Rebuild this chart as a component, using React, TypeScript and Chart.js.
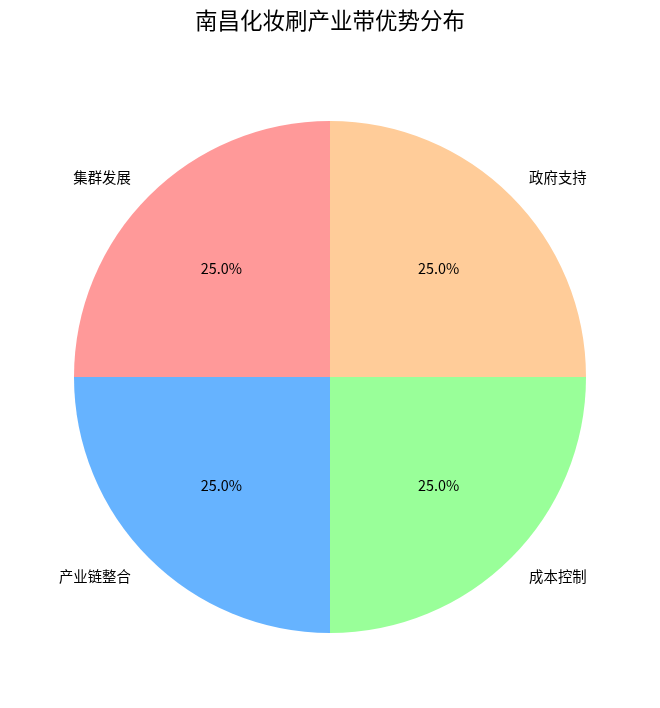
import React, { useEffect, useRef } from 'react';
import { Chart, ChartConfiguration, Plugin } from 'chart.js/auto';

// clockwise from 12 o'clock
const categories = ['政府支持', '成本控制', '产业链整合', '集群发展'];
const shares = [25, 25, 25, 25];
const colors = ['#ffcc99', '#99ff99', '#66b3ff', '#ff9999'];
const title = '南昌化妆刷产业带优势分布';

const FONT = '"Noto Sans CJK SC", "Noto Sans", sans-serif';

const pieLabels: Plugin<'pie'> = {
  id: 'pieLabels',
  afterDraw(chart) {
    const ctx = chart.ctx;
    const meta = chart.getDatasetMeta(0);
    const total = shares.reduce((a, b) => a + b, 0);
    ctx.save();
    ctx.fillStyle = '#000';
    ctx.textBaseline = 'middle';

    ctx.font = `22.5px ${FONT}`;
    ctx.textAlign = 'center';
    ctx.fillText(title, 330, 20);

    meta.data.forEach((el: any, i: number) => {
      const { x, y, startAngle, endAngle, outerRadius } = el.getProps(
        ['x', 'y', 'startAngle', 'endAngle', 'outerRadius'],
        true
      );
      const mid = (startAngle + endAngle) / 2;
      const c = Math.cos(mid);
      const s = Math.sin(mid);
      ctx.font = `14.4px ${FONT}`;
      // category label outside
      const lx = x + c * outerRadius * 1.1;
      const ly = y + s * outerRadius * 1.1;
      ctx.textAlign = Math.abs(c) < 1e-6 ? 'center' : c < 0 ? 'right' : 'left';
      ctx.fillText(categories[i], lx, ly);
      // percentage inside
      const px = x + c * outerRadius * 0.6;
      const py = y + s * outerRadius * 0.6;
      ctx.textAlign = 'center';
      ctx.fillText(((shares[i] / total) * 100).toFixed(1) + '%', px, py);
    });
    ctx.restore();
  },
};

const App: React.FC = () => {
  const chartRef = useRef<HTMLCanvasElement | null>(null);
  const chartInstance = useRef<Chart | null>(null);

  useEffect(() => {
    document.body.style.margin = '0';
    if (chartRef.current) {
      const ctx = chartRef.current.getContext('2d');
      if (ctx) {
        if (chartInstance.current) {
          chartInstance.current.destroy();
        }
        const config: ChartConfiguration<'pie'> = {
          type: 'pie',
          data: {
            labels: categories,
            datasets: [
              {
                data: shares,
                backgroundColor: colors,
                borderWidth: 0,
                hoverOffset: 0,
              },
            ],
          },
          options: {
            animation: false,
            responsive: false,
            maintainAspectRatio: false,
            layout: { padding: { left: 74, right: 74, top: 121, bottom: 75 } },
            plugins: {
              legend: { display: false },
              title: { display: false },
              tooltip: { enabled: false },
            },
          },
          plugins: [pieLabels],
        };
        chartInstance.current = new Chart(ctx, config);
      }
    }
    return () => {
      if (chartInstance.current) {
        chartInstance.current.destroy();
        chartInstance.current = null;
      }
    };
  }, []);

  return (
    <div style={{ width: 660, height: 708, background: '#fff' }}>
      <canvas ref={chartRef} width={660} height={708} style={{ width: 660, height: 708 }} />
    </div>
  );
};

export default App;
